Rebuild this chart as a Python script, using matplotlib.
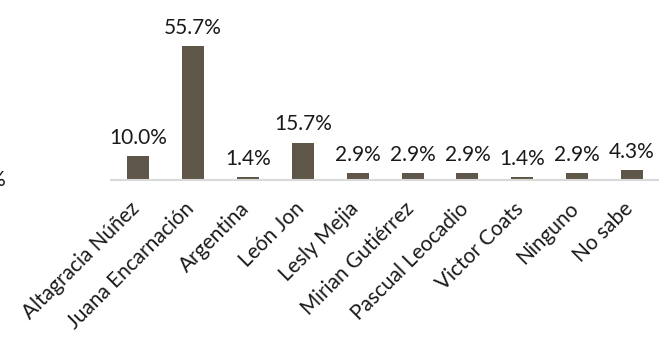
import matplotlib
matplotlib.use("Agg")
import matplotlib.pyplot as plt
from matplotlib.transforms import ScaledTranslation

plt.rcParams['font.family'] = ['Lato', 'DejaVu Sans']

categories = ["Altagracia Núñez", "Juana Encarnación", "Argentina", "León Jon",
              "Lesly Mejia", "Mirian Gutiérrez", "Pascual Leocadio", "Victor Coats",
              "Ninguno", "No sabe"]
values = [10.0, 55.7, 1.4, 15.7, 2.9, 2.9, 2.9, 1.4, 2.9, 4.3]

bar_color = "#5e5749"
axis_color = "#d9d9d9"
text_color = "#1a1a1a"

fig = plt.figure(figsize=(6.59, 3.39), dpi=100)
ax = fig.add_axes([0.168, 0.4676, 0.8328, 0.4264])

x = range(len(categories))
ax.bar(x, values, width=0.4, color=bar_color, zorder=2)
ax.set_xlim(-0.5, len(categories) - 0.5)
ax.set_ylim(0, 60)

for xi, v in zip(x, values):
    ax.annotate(f"{v:.1f}%", (xi, v), xytext=(0, 6), textcoords="offset points",
                ha="center", va="bottom", fontsize=15, color=text_color)

for s in ["top", "right", "left"]:
    ax.spines[s].set_visible(False)
ax.spines["bottom"].set_color(axis_color)
ax.spines["bottom"].set_linewidth(1.5)
ax.set_yticks([])
ax.set_xticks(list(x))
ax.set_xticklabels(categories, rotation=45, ha="right", va="top",
                   rotation_mode="anchor", fontsize=15, color=text_color)
ax.tick_params(axis="x", length=0, pad=13)
shift = ScaledTranslation(-9 / 100, 0, fig.dpi_scale_trans)
for lbl in ax.get_xticklabels():
    lbl.set_transform(lbl.get_transform() + shift)

# remnant of the value-axis label at the far left
fig.text(6 / 659, 1 - 180 / 339, "0%", ha="right", va="center", fontsize=15, color=text_color)

fig.savefig("out.png", dpi=100)
